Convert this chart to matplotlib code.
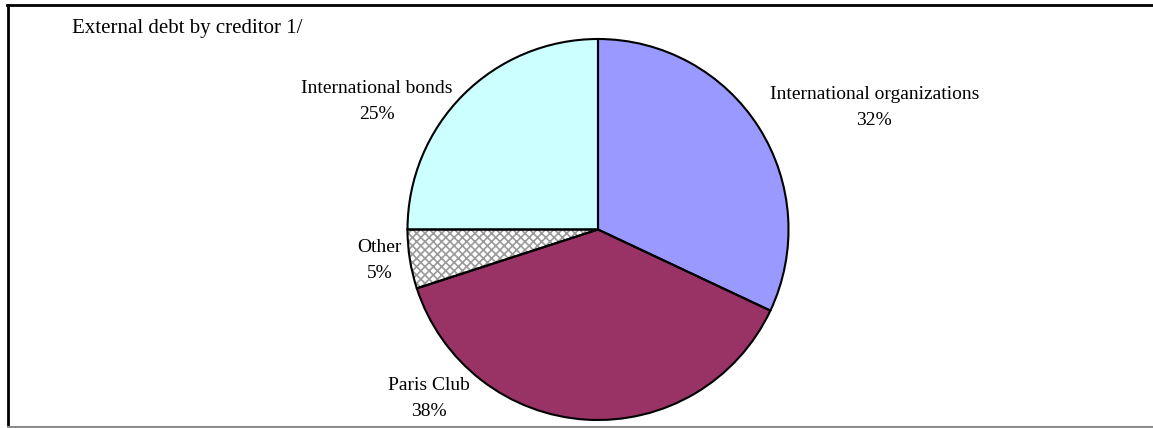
import matplotlib.pyplot as plt
from matplotlib.lines import Line2D

plt.rcParams['font.family'] = ['Liberation Serif', 'DejaVu Serif']
plt.rcParams['hatch.linewidth'] = 1.2

# data
categories = ['International organizations', 'Paris Club', 'Other', 'International bonds']
shares = [32, 38, 5, 25]
colors = ['#9999FF', '#993366', '#FFFFFF', '#CCFFFF']
hatches = [None, None, 'xxxx', None]
# label anchors, in pie radii from the centre
label_pos = [(1.45, 0.64), (-0.89, -0.887), (-1.145, -0.165), (-1.16, 0.672)]

W, H = 1153, 428
fig = plt.figure(figsize=(W / 100, H / 100), dpi=100)

cx, cy, r = 598, 428 - 229.5, 190.5
ax = fig.add_axes([(cx - r) / W, (cy - r) / H, 2 * r / W, 2 * r / H])

# fill (hatch drawn in grey), then black outlines on top
wedges, _ = ax.pie(shares, colors=colors, startangle=90, counterclock=False,
                   wedgeprops=dict(linewidth=0))
for w, h in zip(wedges, hatches):
    if h:
        w.set_hatch(h)
        w.set_edgecolor('#9a9a9a')
ax.pie(shares, colors=['none'] * 4, startangle=90, counterclock=False,
       wedgeprops=dict(linewidth=1.5, edgecolor='black', facecolor='none'))
ax.set_xlim(-1, 1)
ax.set_ylim(-1, 1)
ax.set_aspect('equal')

for cat, s, (lx, ly) in zip(categories, shares, label_pos):
    ax.text(lx, ly, f'{cat}\n{s}%', ha='center', va='center', fontsize=14,
            linespacing=1.7, clip_on=False)

fig.text(72 / W, 1 - 28 / H, 'External debt by creditor 1/', fontsize=15,
         ha='left', va='center')

# frame lines
fig.add_artist(Line2D([7 / W, 1], [1 - 4.5 / H, 1 - 4.5 / H], color='black', lw=2))
fig.add_artist(Line2D([8 / W, 8 / W], [0, 1 - 4.5 / H], color='black', lw=2))
fig.add_artist(Line2D([8 / W, 1], [1.2 / H, 1.2 / H], color='#8c8c8c', lw=1.5))

fig.savefig('out.png', dpi=100)
